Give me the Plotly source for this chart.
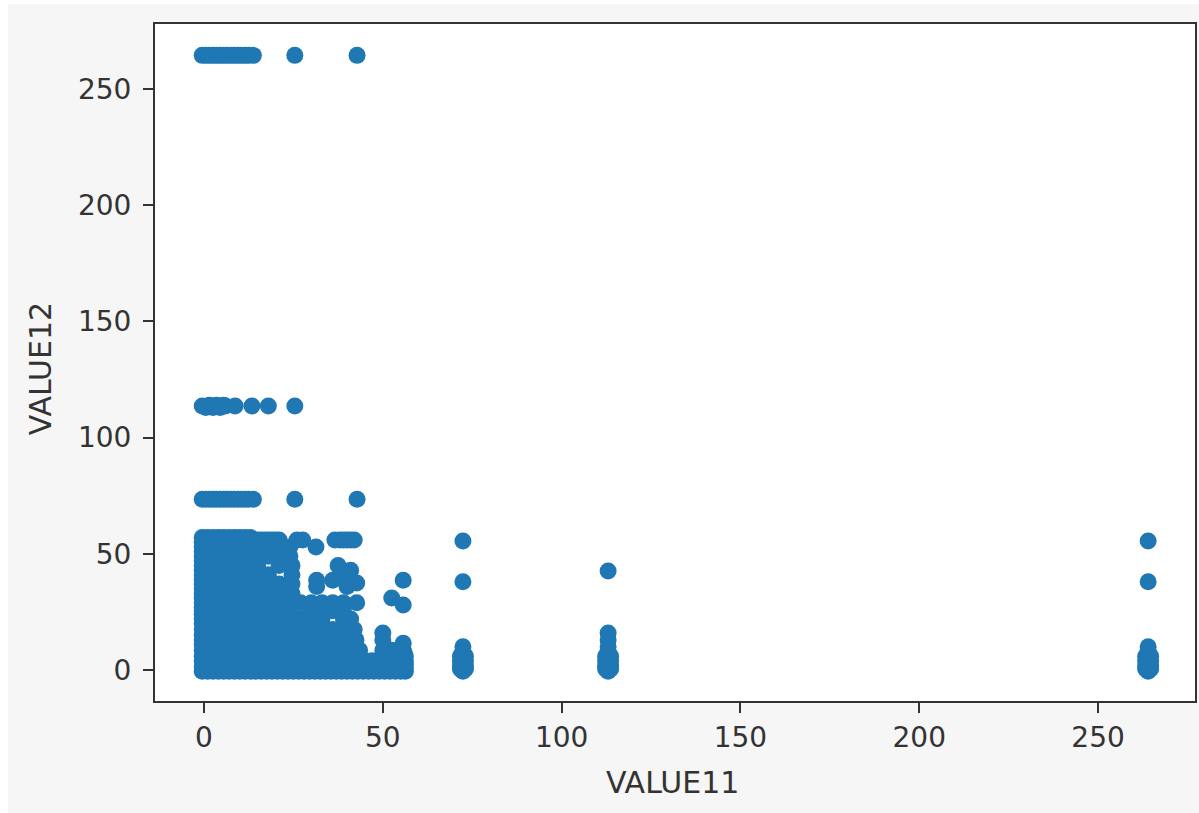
import plotly.graph_objects as go

# Dense block: one list of VALUE11 readings per VALUE12 level
LEVELS = [-0.5, 4, 8.5, 13, 17.5, 22, 25.5, 29, 33, 37, 41, 45, 49, 53]
ROW_A = [-0.5,1,2.5,4,5.5,7,8.5,10,11.5,13,14.5,16,17.5,19,20.5,22,23.5,25,26.5,28,29.5,31,32.5,34,35.5,37,38.5,40,41.5,43,44.5,46,47.5,49,50.5,52,53.5,55,56.3]
ROW_B = [-0.5,3,6,9,12,15,18,21,24,27,30,33,36,39,42,45,47,50,52.5,55,56.3]
ROW_C = [-0.5,3,6,9,12,15,18,21,24,27,30,33,36,39,42,43.5,50,52.5,55.7]
ROW_D = [-0.5,3,6,9,12,15,18,21,24,27,30,33,36,39,42.5,50]
ROW_E = [-0.5,3,6,9,12,15,18,21,24,27,30,33,36,39,42]
ROW_F = [-0.5,3,6,9,12,15,18,21,24,27,30,33,39,41]
ROW_G = [-0.5,3,6,9,12,15,18,21,24,30,33,36,39]
ROW_H = [-0.5,3,6,9,12,15,18,21,24,27,30,33,36,39,42.7]
ROW_I = [-0.5,3,6,9,12,15,18,21,24.6]
ROW_J = [-0.5,3,6,9,12,15,18,21,24.6]
ROW_K = [-0.5,3,6,9,12,15,18,24.6]
ROW_L = [-0.5,3,6,9,12,15,21,24.6]
ROW_M = [-0.5,3,6,9,12,15,18,21,24]
ROW_N = [-0.5,3,6,9,12,15,18,21,24]
ROWS = [ROW_A, ROW_B, ROW_C, ROW_D, ROW_E, ROW_F, ROW_G, ROW_H, ROW_I, ROW_J, ROW_K, ROW_L, ROW_M, ROW_N]

# Readings that smooth the left and right edges of the block
LEFT_Y = [1.5,6,11,15,20,24,27,31,35,39,43,47,51,55]
LEFT_X = [-0.5]*14
RIGHT_Y = [1,2.5,6,7.5]
RIGHT_X = [56.3,56.3,56.3,56]

# Individual clusters and stragglers
TOP_X = [-0.5,0.5,1.5,2.5,3.5,4.5,5.5,6.5,7.5,8.5,9.5,10.5,11.5,12.5,13.8,25.4,42.8]
TOP_Y = [264.5]*17
R113_X = [-0.5,0.5,1.5,2.5,3.5,4.5,5.5,6,8.7,13.4,18,25.4]
R113_Y = [113.6,113,114,113,114,113,114,113.6,113.6,113.6,113.6,113.6]
R73_X = [-0.5,0.5,1.5,2.5,3.5,4.5,5.5,6.5,7.5,8.5,9.5,10.5,11.5,12.5,13.8,25.4,42.8]
R73_Y = [73.5]*17
R57_X = [-0.5,1,2.5,4,5.5,7,8.5,10,11.5,13]
R57_Y = [57]*10
R56_X = [15,16,17,18,19,20,21,26,27.6,36.6,38,39,40,41,42,72.4,264]
R56_Y = [56]*15 + [55.5,55.5]
LOOSE_X = [31.3,37.5,41,42.7,40,36,31.5,31.5,39.5,55.7,52.5,55.7,50,55.7]
LOOSE_Y = [53,45,43,37.5,36,38.7,38.7,36,41,38.7,31,28,16,11.5]
C72_X = [72.4,72.4,72.4,71.7,73.1,71.7,73.1,71.7,73.1,71.7,73.1,72.4,72.4]
C72_Y = [38,10,-0.5,0.5,0.5,2,2,4,4,6,6,8,8]
C113_X = [113,113,113,113,113,112.3,113.7,112.3,113.7,112.3,113.7,112.3,113.7,113]
C113_Y = [42.6,16,13,10,-0.5,0.5,0.5,2,2,4,4,6,6,8]
C264_X = [264,264,264,263.3,264.7,263.3,264.7,263.3,264.7,263.3,264.7,264,264]
C264_Y = [38,10,-0.5,0.5,0.5,2,2,4,4,6,6,8,8]

x_blob = [x for row in ROWS for x in row]
y_blob = [lv for lv, row in zip(LEVELS, ROWS) for _ in row]
xs = x_blob + LEFT_X + RIGHT_X + TOP_X + R113_X + R73_X + R57_X + R56_X + LOOSE_X + C72_X + C113_X + C264_X
ys = y_blob + LEFT_Y + RIGHT_Y + TOP_Y + R113_Y + R73_Y + R57_Y + R56_Y + LOOSE_Y + C72_Y + C113_Y + C264_Y

TICKS = [0, 50, 100, 150, 200, 250]
X_TITLE = "VALUE11"
Y_TITLE = "VALUE12"
W, H = 1199, 813
L, R, T, B = 155, 1197, 24, 701
INK = "#333333"
TICK_FONT = dict(family="DejaVu Sans", size=28, color=INK)
TITLE_FONT = dict(family="DejaVu Sans", size=30, color=INK)

fig = go.Figure(go.Scatter(x=xs, y=ys, mode="markers",
                           marker=dict(color="#1f77b4", size=17, line=dict(width=0))))

axis = dict(tickvals=TICKS, ticks="outside", ticklen=10, tickwidth=2, tickcolor=INK,
            showgrid=False, zeroline=False, showline=True, mirror=True,
            linecolor=INK, linewidth=2, tickfont=TICK_FONT)
fig.update_xaxes(range=[-13.7, 277.1], **axis)
fig.update_yaxes(range=[-13.3, 278], ticklabelstandoff=6, **axis)

fig.update_layout(
    width=W, height=H, autosize=False, showlegend=False,
    paper_bgcolor="white", plot_bgcolor="white",
    margin=dict(l=L, r=W - R, t=T, b=H - B, pad=0),
    shapes=[
        dict(type="rect", xref="paper", yref="paper", layer="below", line_width=0,
             fillcolor="#f6f6f6",
             x0=(8 - L) / (R - L), x1=(W + 20 - L) / (R - L),
             y0=(B - H - 20) / (B - T), y1=(B - 4) / (B - T)),
        dict(type="rect", xref="paper", yref="paper", layer="below", line_width=0,
             fillcolor="white", x0=0, x1=1, y0=0, y1=1),
    ],
    annotations=[
        dict(text=X_TITLE, xref="paper", yref="paper", showarrow=False, font=TITLE_FONT,
             x=(673 - L) / (R - L), y=(B - 782) / (B - T), xanchor="center", yanchor="middle"),
        dict(text=Y_TITLE, xref="paper", yref="paper", showarrow=False, font=TITLE_FONT,
             textangle=-90, x=(40 - L) / (R - L), y=(B - 369) / (B - T),
             xanchor="center", yanchor="middle"),
    ],
)
fig.write_html("out.html", post_script="document.body.style.margin='0';",
               config=dict(displayModeBar=False))
